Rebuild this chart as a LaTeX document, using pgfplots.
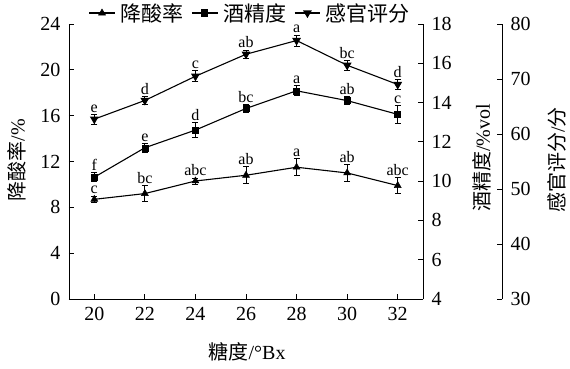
\documentclass[border=0pt]{standalone}
\usepackage{pgfplots}
\pgfplotsset{compat=1.18}
\usepackage{pgfplotstable}
\usepackage{fontspec}
\setmainfont{Liberation Serif}
\newfontfamily\cjk{Noto Sans CJK SC}

\pgfplotstableread{
x y e lab
20 8.7 0.23 c
22 9.2 0.70 bc
24 10.3 0.26 abc
26 10.8 0.73 ab
28 11.5 0.76 a
30 11.0 0.73 ab
32 9.9 0.68 abc
}\acid
\pgfplotstableread{
x y e lab
20 10.2 0.23 f
22 11.7 0.23 e
24 12.6 0.40 d
26 13.7 0.20 bc
28 14.6 0.26 a
30 14.1 0.20 ab
32 13.4 0.46 c
}\alc
\pgfplotstableread{
x y e lab
20 62.7 0.9 e
22 66.1 0.7 d
24 70.5 1.0 c
26 74.5 0.75 ab
28 77.0 1.0 a
30 72.5 0.9 bc
32 69.0 0.85 d
}\sens

\pgfplotsset{
  common/.style={
    width=354pt, height=275pt, scale only axis,
    at={(0pt,0pt)}, anchor=south west,
    tick align=inside, major tick length=5pt,
    tick style={black, line width=0.8pt},
    axis line style={black, line width=0.8pt},
    ticklabel style={font=\fontsize{20}{24}\selectfont},
    /pgf/number format/assume math mode=true,
    label style={font=\fontsize{20}{24}\selectfont},
    clip=false,
    nodes near coords,
    point meta=explicit symbolic,
    every node near coord/.append style={font=\fontsize{16}{18}\selectfont, anchor=south, inner sep=0.5pt, text=black},
  },
  ser/.style={black, line width=1.1pt, mark options={solid, line width=0.5pt},
    error bars/y dir=both, error bars/y explicit,
    error bars/error bar style={line width=0.9pt, black},
    error bars/error mark options={rotate=90, mark size=3pt, line width=0.9pt, black}},
}

\begin{document}
\begin{tikzpicture}
% left axis: acid reduction
\begin{axis}[common,
  xmin=19, xmax=33, ymin=0, ymax=24,
  axis x line*=bottom, axis y line*=left,
  xtick={20,22,...,32}, ytick={0,4,...,24},
  xlabel={{\cjk 糖度}/°Bx},
  ylabel={{\cjk 降酸率}/\%},
  xlabel style={at={(axis description cs:0.503,-0.193)}, anchor=center},
  ylabel style={at={(axis description cs:-0.147,0.505)}, anchor=center},
  yticklabel style={xshift=-5pt},
  xticklabel style={yshift=-5pt},
  legend columns=3,
  legend style={draw=none, fill=none, at={(axis description cs:0.055,1.04)}, anchor=west,
    font=\fontsize{21}{24}\selectfont\cjk, column sep=3pt, inner sep=0pt,
    /tikz/every even column/.append style={column sep=6pt}},
  legend image code/.code={\draw[mark repeat=2,mark phase=2] plot coordinates {(0cm,0cm) (0.45cm,0cm) (0.9cm,0cm)};},
  visualization depends on={max(\thisrow{e}*11.458,3.5)+1 \as \esh},
  every node near coord/.append style={yshift=\esh},
]
\addplot+[ser, mark=triangle*, mark size=4pt] table[x=x, y=y, y error=e, meta=lab] {\acid};
\addlegendentry{降酸率}
\addlegendimage{black, line width=1.1pt, mark=square*, mark size=3pt, mark options={solid}}
\addlegendentry{酒精度}
\addlegendimage{black, line width=1.1pt, mark=triangle*, mark size=4pt, mark options={solid, rotate=180}}
\addlegendentry{感官评分}
\end{axis}
% middle right axis: alcohol
\begin{axis}[common,
  xmin=19, xmax=33, ymin=4, ymax=18,
  axis x line=none, axis y line*=right,
  ytick={4,6,...,18},
  ylabel={{\cjk 酒精度}/\%vol},
  ylabel style={at={(axis description cs:1.167,0.513)}, anchor=center, rotate=0},
  yticklabel style={xshift=5pt},
  visualization depends on={max(\thisrow{e}*19.643,3.5)+1 \as \esh},
  every node near coord/.append style={yshift=\esh},
]
\addplot+[ser, mark=square*, mark size=3pt] table[x=x, y=y, y error=e, meta=lab] {\alc};
\end{axis}
% far right axis: sensory
\begin{axis}[common, width=433pt,
  xmin=19, xmax=36.124, ymin=30, ymax=80,
  axis x line=none, axis y line*=right,
  ytick={30,40,...,80},
  ylabel={{\cjk 感官评分}/{\cjk 分}},
  ylabel style={at={(axis description cs:1.127,0.505)}, anchor=center, rotate=0},
  yticklabel style={xshift=5pt},
  visualization depends on={max(\thisrow{e}*5.5,3.5)+1 \as \esh},
  every node near coord/.append style={yshift=\esh},
]
\addplot+[ser, mark=triangle*, mark size=4pt, mark options={rotate=180}] table[x=x, y=y, y error=e, meta=lab] {\sens};
\end{axis}
\pgfresetboundingbox
\path (-69pt,-69pt) rectangle (501pt,299pt);
\end{tikzpicture}
\end{document}
